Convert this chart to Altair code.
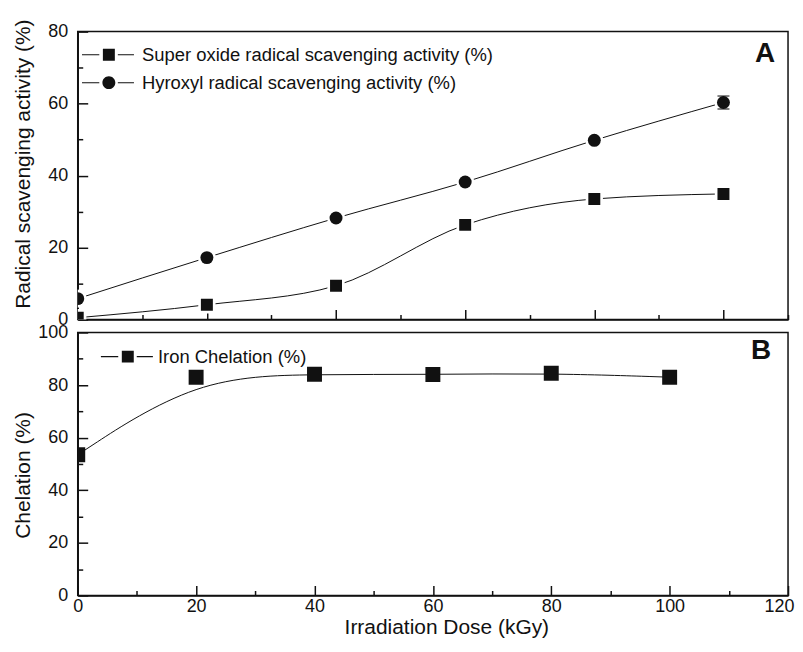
import altair as alt
import pandas as pd

# ---------------- data ----------------
doses = [0, 20, 40, 60, 80, 100]
superoxide = [0.5, 4.1, 9.4, 26.3, 33.5, 34.9]
hydroxyl = [5.8, 17.2, 28.2, 38.2, 49.8, 60.3]
hydroxyl_err = [0, 0, 0, 0, 0, 1.8]
chelation = [53.5, 83.0, 84.1, 84.0, 84.5, 83.0]

name_super = "Super oxide radical scavenging activity (%)"
name_hydroxyl = "Hyroxyl radical scavenging activity (%)"
name_iron = "Iron Chelation (%)"

top_x_ticks = [0, 10, 20, 30, 40, 50, 60, 70, 80, 90, 100, 110]
bot_x_ticks = [0, 10, 20, 30, 40, 50, 60, 70, 80, 90, 100, 110, 120]
top_y_ticks = [0, 10, 20, 30, 40, 50, 60, 70, 80]
bot_y_ticks = [0, 10, 20, 30, 40, 50, 60, 70, 80, 90, 100]

FONT = "Liberation Sans"
INK = "#111111"

top_df = pd.DataFrame({
    "dose": doses + doses,
    "value": superoxide + hydroxyl,
    "err": [0] * len(doses) + hydroxyl_err,
    "series": [name_super] * len(doses) + [name_hydroxyl] * len(doses),
})
top_df["lo"] = top_df["value"] - top_df["err"]
top_df["hi"] = top_df["value"] + top_df["err"]
top_df["legend_series"] = top_df["series"]

bot_df = pd.DataFrame({
    "dose": doses,
    "value": chelation,
    "legend_series": [name_iron] * len(doses),
})

# legend symbols: thin bar - marker - thin bar (all filled sub-paths)
STUBS = "M-4.5,-0.09H-1.6V0.09H-4.5Z M1.5,-0.09H4.2V0.09H1.5Z "
SQ_PATH = STUBS + "M-1,-1H1V1H-1Z"
CI_PATH = STUBS + "M-1.08,0A1.08,1.08 0 1,0 1.08,0A1.08,1.08 0 1,0 -1.08,0Z"


def make_axis(values, title=None, labels=True, **kw):
    return alt.Axis(
        values=values, title=title, labels=labels,
        labelExpr="datum.value % 20 === 0 ? datum.label : ''",
        tickSize={"expr": "datum.value % 20 === 0 ? -10 : -5"},
        labelFlush=False, labelOverlap=False, grid=False, **kw)


top_x_axis = make_axis(top_x_ticks, labels=False)
top_y_axis = make_axis(top_y_ticks, title="Radical scavenging activity (%)",
                       labelPadding=20, titleX=-54, titleY=132.5,
                       titleBaseline="middle", titleFontSize=21)
bot_x_axis = make_axis(bot_x_ticks, title="Irradiation Dose (kGy)",
                       labelPadding=12, titleX=370, titleY=32,
                       titleBaseline="middle", titleFontSize=21,
                       labelAlign={"condition": {"test": "datum.value === 120", "value": "right"},
                                   "value": "center"},
                       labelOffset={"expr": "datum.value === 120 ? 6 : 0"})
bot_y_axis = make_axis(bot_y_ticks, title="Chelation (%)",
                       labelPadding=20, titleX=-54, titleY=143,
                       titleBaseline="middle", titleFontSize=21)


def tx(field="dose"):
    return alt.X(f"{field}:Q", scale=alt.Scale(domain=[0, 110], nice=False, zero=False), axis=top_x_axis)


def ty(field="value"):
    return alt.Y(f"{field}:Q", scale=alt.Scale(domain=[0, 80], nice=False, zero=False), axis=top_y_axis)


def bx(field="dose"):
    return alt.X(f"{field}:Q", scale=alt.Scale(domain=[0, 120], nice=False, zero=False), axis=bot_x_axis)


def by(field="value"):
    return alt.Y(f"{field}:Q", scale=alt.Scale(domain=[0, 100], nice=False, zero=False), axis=bot_y_axis)


def legend_def(x, y, offset):
    return alt.Legend(title=None, orient="none", legendX=x, legendY=y,
                      symbolSize=144, labelOffset=offset, rowPadding=9, padding=0,
                      labelFontSize=18.5, labelLimit=0,
                      symbolFillColor=INK, symbolStrokeColor=INK, symbolStrokeWidth=0)


def legend_mark(base):
    return base.transform_filter("datum.dose < 0").mark_point(
        filled=True, color=INK, opacity=1, size=144)


base_top = alt.Chart(top_df)

top_lines = base_top.mark_line(interpolate="monotone", color=INK, strokeWidth=1, clip=True).encode(
    x=tx(), y=ty(), detail="series:N")

err = base_top.transform_filter("datum.err > 0")
err_rule = err.mark_rule(color=INK, strokeWidth=1.5).encode(x=tx(), y=ty("lo"), y2="hi:Q")
cap_lo = err.mark_tick(orient="horizontal", color=INK, size=12, thickness=1.5).encode(x=tx(), y=ty("lo"))
cap_hi = err.mark_tick(orient="horizontal", color=INK, size=12, thickness=1.5).encode(x=tx(), y=ty("hi"))


def marker(name, shape, size, color):
    return base_top.transform_filter(alt.datum.series == name).mark_point(
        shape=shape, size=size, filled=True, color=color, opacity=1, clip=True
    ).encode(x=tx(), y=ty())


halo_sq = marker(name_super, "square", 300, "white")
halo_ci = marker(name_hydroxyl, "circle", 330, "white")
mk_sq = marker(name_super, "square", 144, INK)
mk_ci = marker(name_hydroxyl, "circle", 169, INK)

legend_top = legend_mark(base_top).encode(
    x=tx(), y=ty(),
    shape=alt.Shape("legend_series:N",
                    scale=alt.Scale(domain=[name_super, name_hydroxyl], range=[SQ_PATH, CI_PATH]),
                    legend=legend_def(22, 14, 24)))

label_a = alt.Chart(pd.DataFrame({"panel": ["A"]})).mark_text(
    fontSize=28, fontWeight="bold", font=FONT, color=INK, align="center", baseline="middle"
).encode(text="panel:N", x=alt.value(690), y=alt.value(23))

top = alt.layer(top_lines, halo_sq, halo_ci, err_rule, cap_lo, cap_hi, mk_sq, mk_ci,
                legend_top, label_a).properties(width=713, height=289)

base_bot = alt.Chart(bot_df)
bot_line = base_bot.mark_line(interpolate="basis", color=INK, strokeWidth=1, clip=True).encode(
    x=bx(), y=by())
bot_pts = base_bot.mark_point(shape="square", size=225, filled=True, color=INK, opacity=1, clip=True).encode(
    x=bx(), y=by())
legend_bot = legend_mark(base_bot).encode(
    x=bx(), y=by(),
    shape=alt.Shape("legend_series:N",
                    scale=alt.Scale(domain=[name_iron], range=[SQ_PATH]),
                    legend=legend_def(41, 15, 21)))
label_b = alt.Chart(pd.DataFrame({"panel": ["B"]})).mark_text(
    fontSize=28, fontWeight="bold", font=FONT, color=INK, align="center", baseline="middle"
).encode(text="panel:N", x=alt.value(686), y=alt.value(19))

bottom = alt.layer(bot_line, bot_pts, legend_bot, label_b).properties(width=713, height=264)

chart = alt.vconcat(top, bottom, spacing=13, bounds="flush").resolve_scale(
    shape="independent").resolve_legend(shape="independent").properties(
    padding={"left": 4, "top": 8.5, "right": 0, "bottom": 0}
).configure(font=FONT).configure_view(stroke=INK, strokeWidth=1.5).configure_axis(
    labelFont=FONT, titleFont=FONT, labelFontSize=18, titleFontSize=21,
    titleFontWeight="normal", labelColor=INK, titleColor=INK, domainColor=INK,
    tickColor=INK, domainWidth=1.5, tickWidth=1.5
).configure_legend(labelFont=FONT, labelFontSize=18.5, labelColor=INK, labelLimit=0)

chart.save("out.html", embed_options={"renderer": "svg", "actions": False})
